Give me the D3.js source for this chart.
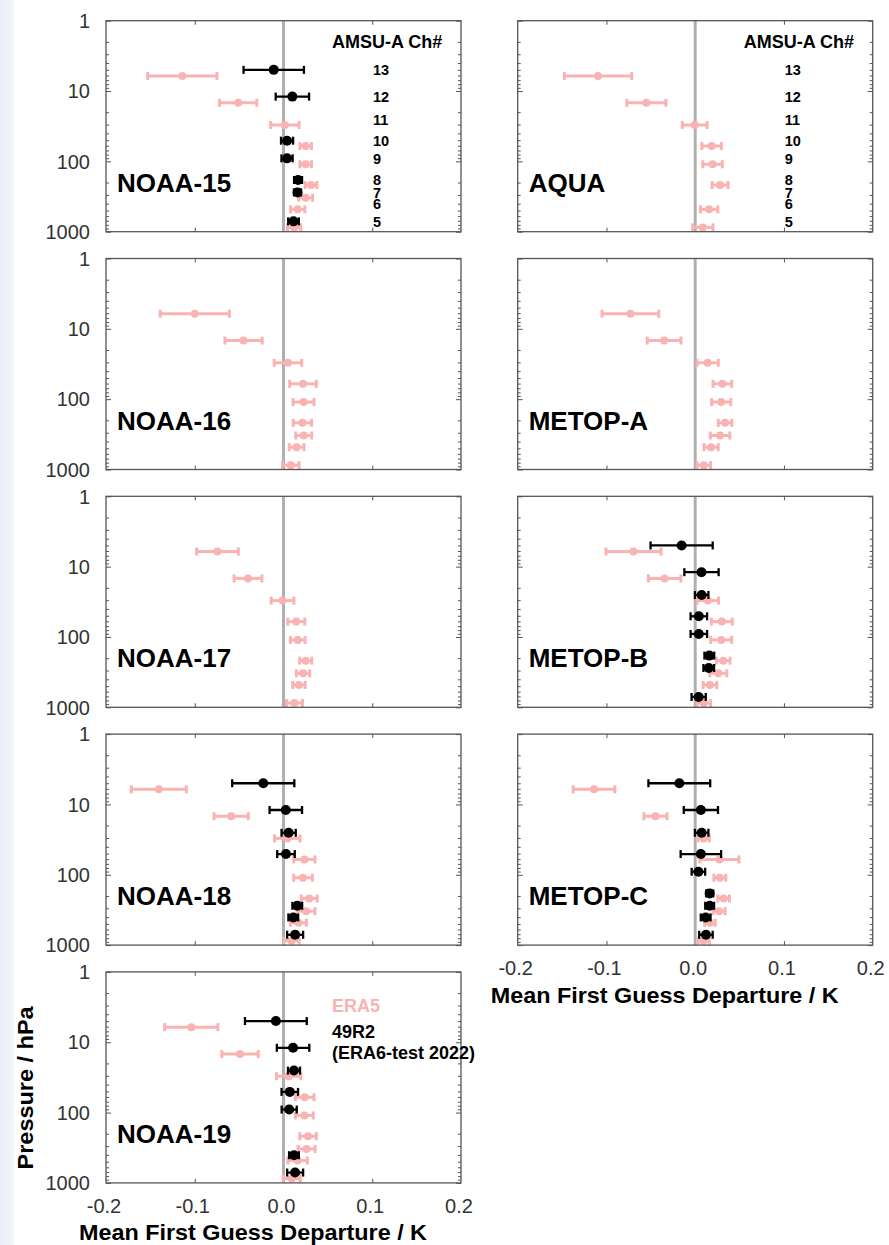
<!DOCTYPE html>
<html>
<head>
<meta charset="utf-8">
<script src="https://cdn.jsdelivr.net/npm/d3@7"></script>
<style>
  body { margin: 0; background: #fff; }
  svg { display: block; font-family: "Liberation Sans", Arial, sans-serif; }
</style>
</head>
<body>
<svg id="chart" width="889" height="1245"></svg>
<script>
// AMSU-A channels, top of the atmosphere first
var channels = [13, 12, 11, 10, 9, 8, 7, 6, 5];
// plotted pressure (hPa) of each channel, ERA5 and 49R2 slightly offset
var presEra5 = [6.1, 14.7, 30.4, 60.5, 110, 217, 329, 481, 868];
var pres49r2 = [5.0, 12.0, 25.3, 50.8, 90.6, 184, 276, 404, 713];

var satellites = ["NOAA-15", "AQUA", "NOAA-16", "METOP-A", "NOAA-17", "METOP-B", "NOAA-18", "METOP-C", "NOAA-19"];

// mean first guess departure (K), one row per satellite
var era5Mean = [
  [-0.114, -0.051, 0.0015, 0.025, 0.025, 0.031, 0.025, 0.016, 0.012],
  [-0.1095, -0.055, -0.0006, 0.0185, 0.0196, 0.028, null, 0.0157, 0.0086],
  [-0.100, -0.045, 0.005, 0.022, 0.0226, 0.0213, 0.0228, 0.0148, 0.0082],
  [-0.073, -0.035, 0.014, 0.0306, 0.0293, 0.0336, 0.028, 0.0179, 0.0097],
  [-0.0744, -0.040, -0.0011, 0.0144, 0.016, 0.025, 0.022, 0.0174, 0.0123],
  [-0.0695, -0.0344, 0.0142, 0.030, 0.0293, 0.0316, 0.026, 0.0166, 0.0097],
  [-0.1405, -0.059, 0.0043, 0.0235, 0.022, 0.029, 0.0254, 0.0168, 0.009],
  [-0.114, -0.0448, 0.0095, 0.0273, 0.0278, 0.0321, 0.0269, 0.0166, 0.0095],
  [-0.1039, -0.049, 0.0058, 0.0239, 0.0235, 0.0277, 0.026, 0.0159, 0.0092]
];
var era5Err = [
  [0.039, 0.021, 0.016, 0.0065, 0.0065, 0.0065, 0.0078, 0.008, 0.0075],
  [0.038, 0.022, 0.014, 0.011, 0.011, 0.009, null, 0.0098, 0.0115],
  [0.039, 0.021, 0.0155, 0.015, 0.0118, 0.0103, 0.009, 0.0083, 0.0093],
  [0.032, 0.019, 0.012, 0.0105, 0.0107, 0.0076, 0.011, 0.008, 0.0076],
  [0.0235, 0.0157, 0.0128, 0.0096, 0.0083, 0.0068, 0.0075, 0.007, 0.009],
  [0.031, 0.0183, 0.012, 0.0118, 0.0118, 0.0077, 0.0096, 0.0077, 0.0076],
  [0.031, 0.0193, 0.0143, 0.012, 0.0105, 0.009, 0.010, 0.009, 0.0086],
  [0.0235, 0.013, 0.0064, 0.022, 0.0067, 0.0065, 0.0068, 0.006, 0.0064],
  [0.030, 0.0205, 0.0137, 0.0105, 0.0101, 0.0093, 0.0096, 0.011, 0.0096]
];
var r49Mean = [
  [-0.011, 0.010, null, 0.004, 0.004, 0.0164, 0.0158, null, 0.0113],
  [null, null, null, null, null, null, null, null, null],
  [null, null, null, null, null, null, null, null, null],
  [null, null, null, null, null, null, null, null, null],
  [null, null, null, null, null, null, null, null, null],
  [-0.0153, 0.0071, 0.0073, 0.0041, 0.0041, 0.0159, 0.0153, null, 0.0039],
  [-0.0228, 0.0026, 0.0058, 0.0028, null, null, 0.0155, 0.011, 0.0131],
  [-0.0179, 0.0064, 0.0073, 0.0064, 0.0036, 0.0163, 0.0163, 0.0118, 0.0121],
  [-0.0086, 0.0108, 0.0118, 0.0071, 0.0064, null, null, 0.0118, 0.0131]
];
var r49Err = [
  [0.034, 0.0188, null, 0.0068, 0.0063, 0.0045, 0.004, null, 0.006],
  [null, null, null, null, null, null, null, null, null],
  [null, null, null, null, null, null, null, null, null],
  [null, null, null, null, null, null, null, null, null],
  [null, null, null, null, null, null, null, null, null],
  [0.035, 0.0193, 0.0076, 0.0093, 0.0093, 0.0055, 0.006, null, 0.008],
  [0.035, 0.0183, 0.008, 0.0099, null, null, 0.0055, 0.0055, 0.009],
  [0.0348, 0.0193, 0.0076, 0.0228, 0.0076, 0.004, 0.005, 0.0055, 0.0076],
  [0.0348, 0.0183, 0.0068, 0.0093, 0.0085, null, null, 0.0055, 0.009]
];

var xTicks = [-0.2, -0.1, 0.0, 0.1, 0.2];
var yTicks = [1, 10, 100, 1000];
var legendLabels = ["ERA5", "49R2", "(ERA6-test 2022)"];

var PINK = "#f9b3b3", BLACK = "#000", FRAME = "#555";

var svg = d3.select("#chart");

// faint slide background on the left edge
var grad = svg.append("defs").append("linearGradient").attr("id", "bg");
grad.append("stop").attr("offset", "0%").attr("stop-color", "#e9eef5");
grad.append("stop").attr("offset", "100%").attr("stop-color", "#f4f6fa");
svg.append("rect").attr("x", 0).attr("y", 0).attr("width", 14).attr("height", 1245).attr("fill", "url(#bg)");

var pw = 355, ph = 211;
var colX = [106, 517.7];
var rowY = function (r) { return 20.7 + r * 237.8; };

var minorTicks = [];
[1, 10, 100].forEach(function (dec) {
  for (var k = 2; k <= 9; k++) { minorTicks.push(dec * k); }
});

var drawSeries = function (g, x, y, means, errs, pres, color, r, lw, capH) {
  var rows = [];
  means.forEach(function (m, k) {
    if (m !== null) { rows.push({ m: m, e: errs[k], p: pres[k] }); }
  });
  var s = g.append("g");
  s.selectAll("line.bar").data(rows).enter().append("line")
    .attr("x1", function (d) { return x(d.m - d.e); })
    .attr("x2", function (d) { return x(d.m + d.e); })
    .attr("y1", function (d) { return y(d.p); })
    .attr("y2", function (d) { return y(d.p); })
    .attr("stroke", color).attr("stroke-width", lw);
  [-1, 1].forEach(function (sgn) {
    s.selectAll("line.cap" + sgn).data(rows).enter().append("line")
      .attr("x1", function (d) { return x(d.m + sgn * d.e); })
      .attr("x2", function (d) { return x(d.m + sgn * d.e); })
      .attr("y1", function (d) { return y(d.p) - capH; })
      .attr("y2", function (d) { return y(d.p) + capH; })
      .attr("stroke", color).attr("stroke-width", lw);
  });
  s.selectAll("circle").data(rows).enter().append("circle")
    .attr("cx", function (d) { return x(d.m); })
    .attr("cy", function (d) { return y(d.p); })
    .attr("r", r).attr("fill", color);
};

satellites.forEach(function (name, i) {
  var col = i % 2, row = Math.floor(i / 2);
  var left = colX[col], top = rowY(row);
  var x = d3.scaleLinear().domain([-0.2, 0.2]).range([left, left + pw]);
  var y = d3.scaleLog().domain([1, 1000]).range([top, top + ph]);
  var g = svg.append("g");

  // inside ticks: log ticks on both sides, x ticks top and bottom
  [["axisRight", left], ["axisLeft", left + pw]].forEach(function (a) {
    g.append("g").attr("transform", `translate(${a[1]},0)`)
      .call(d3[a[0]](y).tickValues(yTicks).tickSize(5).tickFormat(""))
      .call(function (ax) { ax.select(".domain").remove(); ax.selectAll("line").attr("stroke", FRAME); });
    g.append("g").attr("transform", `translate(${a[1]},0)`)
      .call(d3[a[0]](y).tickValues(minorTicks).tickSize(3).tickFormat(""))
      .call(function (ax) { ax.select(".domain").remove(); ax.selectAll("line").attr("stroke", FRAME); });
  });
  [["axisBottom", top], ["axisTop", top + ph]].forEach(function (a) {
    g.append("g").attr("transform", `translate(0,${a[1]})`)
      .call(d3[a[0]](x).tickValues([-0.1, 0.1]).tickSize(4).tickFormat(""))
      .call(function (ax) { ax.select(".domain").remove(); ax.selectAll("line").attr("stroke", FRAME); });
  });

  // zero line
  g.append("line")
    .attr("x1", x(0)).attr("x2", x(0)).attr("y1", top).attr("y2", top + ph)
    .attr("stroke", "#b0b0b0").attr("stroke-width", 3);

  drawSeries(g, x, y, era5Mean[i], era5Err[i], presEra5, PINK, 4, 3, 4);
  drawSeries(g, x, y, r49Mean[i], r49Err[i], pres49r2, BLACK, 5, 2.3, 4);

  g.append("rect")
    .attr("x", left).attr("y", top).attr("width", pw).attr("height", ph)
    .attr("fill", "none").attr("stroke", FRAME).attr("stroke-width", 1.3);

  g.append("text")
    .attr("x", left + 11).attr("y", top + 171)
    .attr("font-size", 26).attr("font-weight", "bold")
    .text(name);

  if (col == 0) {
    g.append("g").selectAll("text").data(yTicks).enter().append("text")
      .attr("x", left - 16).attr("y", function (d) { return y(d); })
      .attr("dy", "0.36em").attr("text-anchor", "end")
      .attr("font-size", 20).attr("fill", "#333")
      .text(function (d) { return d; });
  }

  // channel labels in the top row
  if (row == 0) {
    g.append("text")
      .attr("x", left + 226).attr("y", top + 27)
      .attr("font-size", 18).attr("font-weight", "bold")
      .text("AMSU-A Ch#");
    g.append("g").selectAll("text").data(channels).enter().append("text")
      .attr("x", left + 267).attr("y", function (d, k) { return y(pres49r2[k]); })
      .attr("dy", "0.36em")
      .attr("font-size", 14.5).attr("font-weight", "bold")
      .text(function (d) { return d; });
  }

  // x labels under the last panel of each column
  if (i == 7 || i == 8) {
    g.append("g").selectAll("text").data(xTicks).enter().append("text")
      .attr("x", function (d) { return x(d) - 2; }).attr("y", top + ph + 30)
      .attr("text-anchor", "middle").attr("font-size", 20).attr("fill", "#333")
      .text(function (d) { return d.toFixed(1); });
    g.append("text")
      .attr("x", left - 27).attr("y", top + ph + 57.5)
      .attr("font-size", 22).attr("font-weight", "bold")
      .attr("textLength", 348).attr("lengthAdjust", "spacingAndGlyphs")
      .text("Mean First Guess Departure / K");
  }

  if (i == 8) {
    var ly = [39.7, 66.4, 87];
    g.append("g").selectAll("text").data(legendLabels).enter().append("text")
      .attr("x", left + 226).attr("y", function (d, k) { return top + ly[k]; })
      .attr("font-size", 18).attr("font-weight", "bold")
      .attr("fill", function (d, k) { return k == 0 ? PINK : BLACK; })
      .text(function (d) { return d; });

    g.append("text")
      .attr("transform", `translate(33,${top + 116}) rotate(-90)`)
      .attr("text-anchor", "middle")
      .attr("font-size", 22).attr("font-weight", "bold")
      .attr("textLength", 163).attr("lengthAdjust", "spacingAndGlyphs")
      .text("Pressure / hPa");
  }
});
</script>
</body>
</html>
